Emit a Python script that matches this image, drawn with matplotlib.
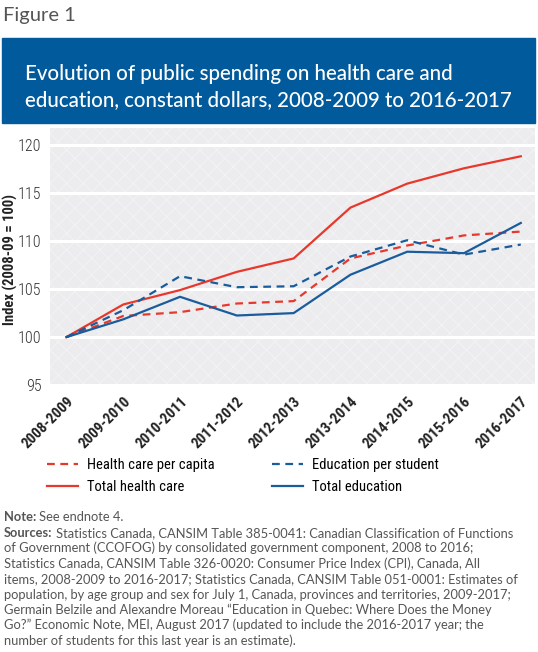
import matplotlib.pyplot as plt
from matplotlib.patches import Rectangle
from matplotlib.transforms import ScaledTranslation

years = ['2008-2009', '2009-2010', '2010-2011', '2011-2012', '2012-2013',
         '2013-2014', '2014-2015', '2015-2016', '2016-2017']
health_per_capita = [100, 102.2, 102.6, 103.5, 103.75, 108.2, 109.55, 110.6, 111.0]
total_health = [100, 103.4, 104.9, 106.8, 108.2, 113.5, 116.0, 117.6, 118.85]
edu_per_student = [100, 102.8, 106.35, 105.2, 105.3, 108.4, 110.1, 108.6, 109.65]
total_edu = [100, 101.85, 104.2, 102.25, 102.5, 106.5, 108.9, 108.75, 111.9]
yticks = [95, 100, 105, 110, 115, 120]

RED = '#e8382c'
BLUE = '#1a5c9c'
COND = 'Roboto Condensed'
plt.rcParams['hatch.linewidth'] = 0.7

fig = plt.figure(figsize=(5.38, 6.52), dpi=100)
W, H = 538, 652

def fx(px):
    return px / W

def fy(py):
    return 1 - py / H

# header
fig.text(fx(3), fy(15), 'Figure 1', fontsize=14.5, color='#555555',
         family='Lato', va='center', ha='left')
fig.patches.append(Rectangle((fx(2), fy(123)), fx(533), 85 / H,
                             transform=fig.transFigure, color='#005a9b', zorder=0))
fig.text(fx(25), fy(87), 'Evolution of public spending on health care and\n'
         'education, constant dollars, 2008-2009 to 2016-2017',
         fontsize=14.8, color='white', family='Lato', fontweight='medium',
         va='center', ha='left', linespacing=1.42)

ax = fig.add_axes([fx(50), fy(386), fx(485), (386 - 128) / H])
ax.set_facecolor('#ececee')
ax.patch.set_hatch('xx')
ax.patch.set_edgecolor('#f3f3f5')
ax.patch.set_linewidth(0)

x = range(len(years))
ax.plot(x, health_per_capita, color=RED, lw=1.6, ls=(0, (3.5, 2.5)), label='Health care per capita')
ax.plot(x, total_health, color=RED, lw=1.6, label='Total health care')
ax.plot(x, edu_per_student, color=BLUE, lw=1.6, ls=(0, (3.5, 2.5)), label='Education per student')
ax.plot(x, total_edu, color=BLUE, lw=1.6, label='Total education')

ax.set_xlim(-0.29, 8.25)
ax.set_ylim(94.9, 121.8)
ax.set_yticks(yticks)
ax.set_yticklabels([str(v) for v in yticks], family=COND, fontweight='light',
                   fontsize=11.5, color='#333333')
ax.set_xticks(list(x))
ax.set_xticklabels(years, rotation=45, ha='right', rotation_mode='anchor',
                   family=COND, fontweight='bold', fontsize=10.8, color='#222222')
shift = ScaledTranslation(4 / 100, 0, fig.dpi_scale_trans)
for lab in ax.get_xticklabels():
    lab.set_transform(lab.get_transform() + shift)
ax.tick_params(axis='both', length=0)
ax.tick_params(axis='y', pad=6)
ax.tick_params(axis='x', pad=6)
for s in ax.spines.values():
    s.set_visible(False)
ax.grid(axis='y', color='white', lw=2.2)
ax.set_axisbelow(True)
fig.text(fx(10), fy(260), 'Index (2008-09 = 100)', family=COND, fontweight='bold',
         fontsize=10.5, color='#222222', rotation=90, ha='center', va='center')

handles, labels = ax.get_legend_handles_labels()
fig.legend(handles, labels, ncol=2, loc='center left',
           bbox_to_anchor=(fx(47), fy(476)), frameon=False, borderpad=0,
           borderaxespad=0, prop={'family': COND, 'size': 10.5}, handlelength=2.15,
           columnspacing=3.9, labelspacing=0.5, handletextpad=0.6)

# notes
note_size = 9.3
fig.canvas.draw()
r = fig.canvas.get_renderer()
t = fig.text(fx(4), fy(521), 'Note:', fontsize=note_size, family='Lato',
             fontweight='bold', color='#555555', va='baseline')
bb = t.get_window_extent(r)
fig.text(bb.x1 / W + fx(3), fy(521), 'See endnote 4.', fontsize=note_size,
         family='Lato', color='#555555', va='baseline')
t2 = fig.text(fx(4), fy(537), 'Sources:', fontsize=note_size, family='Lato',
              fontweight='bold', color='#555555', va='baseline')
bb2 = t2.get_window_extent(r)
fig.text(bb2.x1 / W + fx(3), fy(537),
         'Statistics Canada, CANSIM Table 385-0041: Canadian Classification of Functions',
         fontsize=note_size, family='Lato', color='#555555', va='baseline')
rest = [
    'of Government (CCOFOG) by consolidated government component, 2008 to 2016;',
    'Statistics Canada, CANSIM Table 326-0020: Consumer Price Index (CPI), Canada, All',
    'items, 2008-2009 to 2016-2017; Statistics Canada, CANSIM Table 051-0001: Estimates of',
    'population, by age group and sex for July 1, Canada, provinces and territories, 2009-2017;',
    'Germain Belzile and Alexandre Moreau \u201cEducation in Quebec: Where Does the Money',
    'Go?\u201d Economic Note, MEI, August 2017 (updated to include the 2016-2017 year; the',
    'number of students for this last year is an estimate).',
]
for i, line in enumerate(rest):
    fig.text(fx(4), fy(537 + 15.4 * (i + 1)), line, fontsize=note_size,
             family='Lato', color='#555555', va='baseline')

fig.savefig('out.png', dpi=100)
